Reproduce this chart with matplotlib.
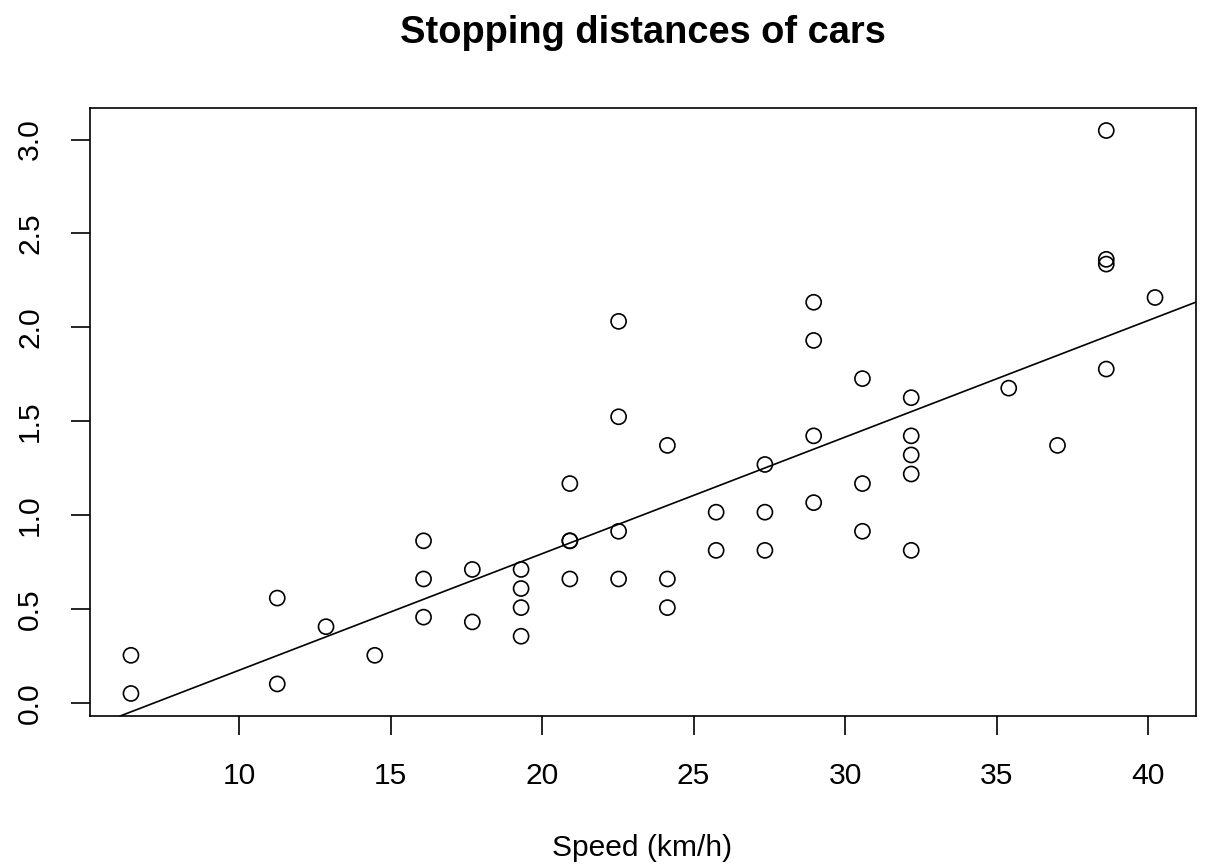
import numpy as np
import matplotlib
matplotlib.use('Agg')
from matplotlib import pyplot as plt

# cars data (mph, ft) converted as in the chart
speed_mph = [4, 4, 7, 7, 8, 9, 10, 10, 10, 11, 11, 12, 12, 12, 12, 13, 13, 13, 13,
             14, 14, 14, 14, 15, 15, 15, 16, 16, 17, 17, 17, 18, 18, 18, 18, 19, 19,
             19, 20, 20, 20, 20, 20, 22, 23, 24, 24, 24, 24, 25]
dist_ft = [2, 10, 4, 22, 16, 10, 18, 26, 34, 17, 28, 14, 20, 24, 28, 26, 34, 34, 46,
           26, 36, 60, 80, 20, 26, 54, 32, 40, 32, 40, 50, 42, 56, 76, 84, 36, 46,
           68, 32, 48, 52, 56, 64, 66, 54, 70, 92, 93, 120, 85]

speed = np.array(speed_mph) * 1.609
dist = np.array(dist_ft) * 0.0254

xticks = [10, 15, 20, 25, 30, 35, 40]
yticks = [0.0, 0.5, 1.0, 1.5, 2.0, 2.5, 3.0]

plt.rcParams['font.family'] = ['Liberation Sans', 'DejaVu Sans']

fig = plt.figure(figsize=(12.09, 8.64), dpi=100)
ax = fig.add_axes([90/1209, 148/864, 1106/1209, 608/864])

ax.scatter(speed, dist, s=118, facecolors='none', edgecolors='black', linewidths=1.2, zorder=3)

slope, icpt = np.polyfit(speed, dist, 1)
ax.axline((0, icpt), slope=slope, color='black', lw=1.2)

xr = speed.max() - speed.min()
yr = dist.max() - dist.min()
ax.set_xlim(speed.min() - 0.04*xr, speed.max() + 0.04*xr)
ax.set_ylim(dist.min() - 0.04*yr, dist.max() + 0.04*yr)

ax.set_xticks(xticks)
ax.set_xticklabels([str(t) for t in xticks])
ax.set_yticks(yticks)
ax.set_yticklabels(['%.1f' % t for t in yticks], rotation=90, va='center')
ax.tick_params(length=14, width=1.2, labelsize=21.6, pad=19, direction='out')
for s in ax.spines.values():
    s.set_linewidth(1.2)

fig.text(643/1209, 1 - 33/864, 'Stopping distances of cars', ha='center', va='center',
         fontsize=27.4, fontweight='bold')
fig.text(642/1209, 2/864, 'Speed (km/h)', ha='center', va='bottom', fontsize=21.6)

fig.savefig('out.png', dpi=100)
